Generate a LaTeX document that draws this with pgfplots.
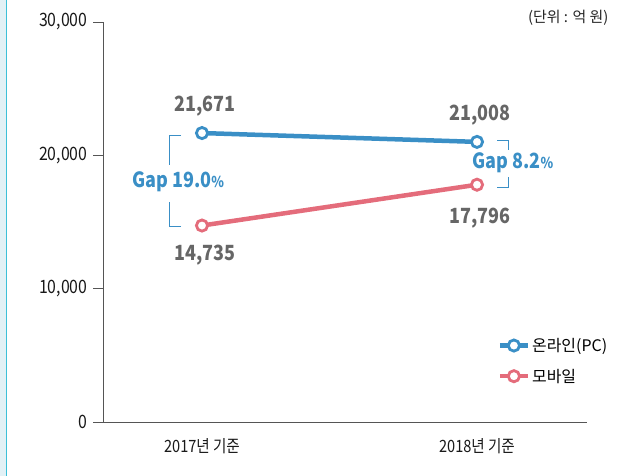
\documentclass[border=0pt]{standalone}
\usepackage{fontspec}
\setmainfont{Noto Sans CJK KR}
\newfontfamily\numfont[FakeStretch=0.86]{Noto Sans CJK KR}
\usepackage{pgfplots}
\pgfplotsset{compat=1.18}
\definecolor{cblue}{HTML}{3A8FC6}
\definecolor{cpink}{HTML}{E46C7B}
\definecolor{cgray}{HTML}{666666}
\definecolor{caxis}{HTML}{555555}
\definecolor{ccyan}{HTML}{3CC0D8}
\definecolor{cstrip}{HTML}{E2F1F6}
\begin{document}
\begin{tikzpicture}
\useasboundingbox (0bp,0bp) rectangle (624bp,476bp);
\fill[cstrip] (0bp,0bp) rectangle (6bp,476bp);
\draw[ccyan, line width=1.2bp] (6.5bp,0bp) -- (6.5bp,476bp);
\node[anchor=east, font=\fontsize{15}{15}\selectfont, text=black!85] at (612bp,458bp) {(단위 : 억 원)};
\begin{axis}[
  at={(103bp,54bp)}, anchor=south west,
  scale only axis, width=484bp, height=400bp,
  xmin=-0.36, xmax=1.40, ymin=0, ymax=30000,
  axis x line*=bottom, axis y line*=left,
  x axis line style={caxis, line width=0.8bp, shorten <=-8bp},
  y axis line style={caxis, line width=0.8bp},
  xtick={0,1}, xticklabels={2017년 기준, 2018년 기준},
  major x tick style={draw=none},
  ytick={0,10000,20000,30000},
  major tick length=10bp,
  ytick style={caxis, line width=0.8bp},
  tick align=outside,
  scaled y ticks=false,
  /pgf/number format/.cd, 1000 sep={,}, assume math mode=true, /pgfplots/.cd,
  yticklabel style={font=\numfont\fontsize{18.5}{18.5}\selectfont, text=black!90, xshift=-2bp},
  xticklabel style={font=\numfont\fontsize{17}{17}\selectfont, text=black!90, yshift=-3bp},
  clip=false,
  legend style={at={(0.815,0.215)}, anchor=north west, draw=none, fill=none,
    font=\fontsize{16}{16}\selectfont, row sep=12bp, inner sep=0pt},
  legend cell align=left,
  legend image code/.code={\draw[mark repeat=2,mark phase=2,#1] plot coordinates {(0bp,0bp) (14bp,0bp) (28bp,0bp)};},
]
\addplot[cblue, line width=4.5bp, mark=*, mark size=5.6bp, mark options={fill=white, line width=2.8bp}]
  coordinates {(0,21671) (1,21008)};
\addlegendentry{온라인(PC)}
\addplot[cpink, line width=4.5bp, mark=*, mark size=5.6bp, mark options={fill=white, line width=2.8bp}]
  coordinates {(0,14735) (1,17796)};
\addlegendentry{모바일}
% value labels
\node[text=cgray, font=\numfont\bfseries\fontsize{21}{21}\selectfont] at (axis cs:0.01,23700) {21,671};
\node[text=cgray, font=\numfont\bfseries\fontsize{21}{21}\selectfont] at (axis cs:0.01,12525) {14,735};
\node[text=cgray, font=\numfont\bfseries\fontsize{21}{21}\selectfont] at (axis cs:1.01,23025) {21,008};
\node[text=cgray, font=\numfont\bfseries\fontsize{21}{21}\selectfont] at (axis cs:1.01,15300) {17,796};
% gap brackets
\draw[cblue, line width=1bp] (axis cs:-0.076,21450) -- (axis cs:-0.12,21450) -- (axis cs:-0.12,19275);
\draw[cblue, line width=1bp] (axis cs:-0.076,14625) -- (axis cs:-0.12,14625) -- (axis cs:-0.12,16525);
\node[text=cblue, font=\numfont\bfseries\fontsize{21}{21}\selectfont] at (axis cs:-0.087,18000) {Gap 19.0{\fontsize{15}{15}\selectfont\%}};
\draw[cblue, line width=1bp] (axis cs:1.073,21075) -- (axis cs:1.113,21075) -- (axis cs:1.113,20400);
\draw[cblue, line width=1bp] (axis cs:1.073,17550) -- (axis cs:1.113,17550) -- (axis cs:1.113,18375);
\node[text=cblue, font=\numfont\bfseries\fontsize{21}{21}\selectfont] at (axis cs:1.13,19425) {Gap 8.2{\fontsize{15}{15}\selectfont\%}};
\end{axis}
\end{tikzpicture}
\end{document}
